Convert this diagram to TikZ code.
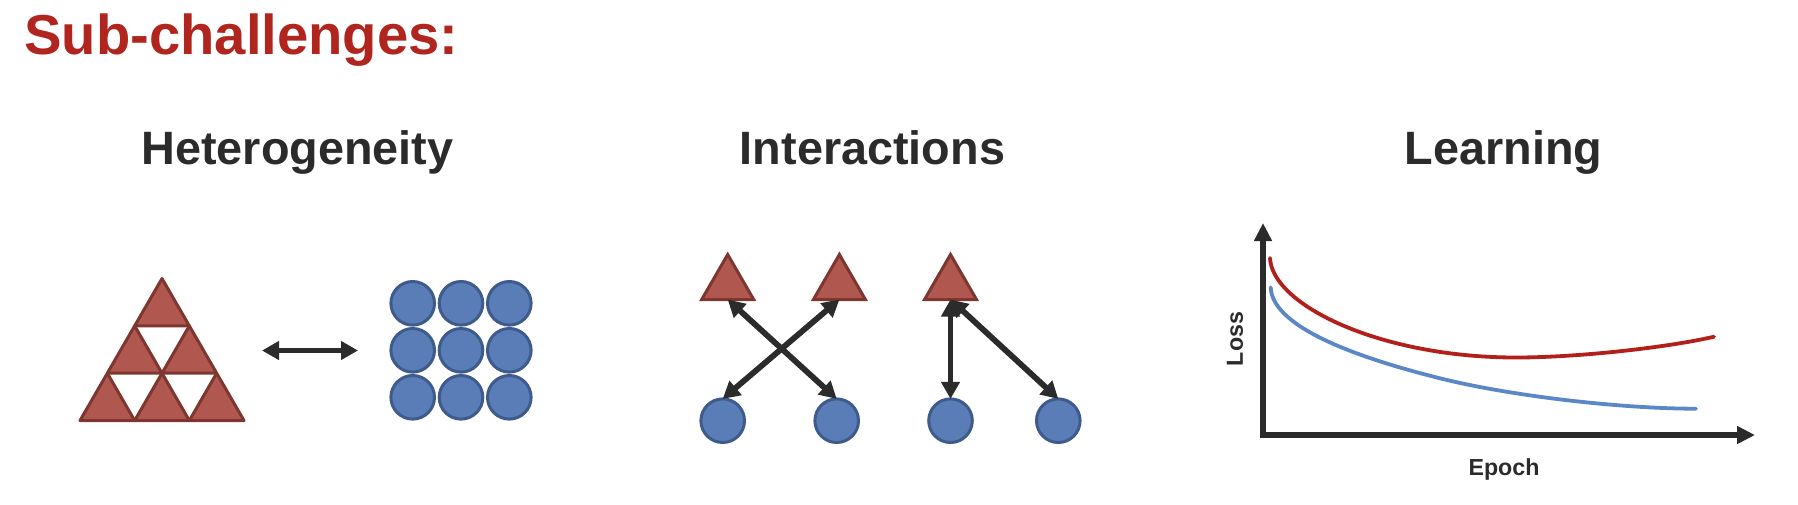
\documentclass[tikz,border=0pt]{standalone}
\usepackage{fontspec}
\setmainfont{Liberation Sans}
\usetikzlibrary{arrows.meta,shapes.geometric}
\definecolor{titlered}{HTML}{B0261E}
\definecolor{ink}{HTML}{2B2B2B}
\definecolor{trifill}{HTML}{B05750}
\definecolor{triedge}{HTML}{7D3730}
\definecolor{dotfill}{HTML}{5A7DB8}
\definecolor{dotedge}{HTML}{3E5B8B}
\definecolor{lossred}{HTML}{B3201B}
\definecolor{lossblue}{HTML}{5B87C6}
\begin{document}
\begin{tikzpicture}[x=0.5pt,y=-0.5pt,
  heading/.style={anchor=base, text=ink, inner sep=0pt,
    font=\bfseries\fontsize{23.4pt}{26pt}\selectfont},
  axlabel/.style={text=ink, inner sep=0pt, font=\bfseries\fontsize{11.6pt}{13pt}\selectfont},
  dot/.style={circle, fill=dotfill, draw=dotedge, line width=1.5pt,
    minimum size=21.8pt, inner sep=0pt, outer sep=0pt},
  tri/.style={regular polygon, regular polygon sides=3, fill=trifill, draw=triedge,
    line width=1.5pt, minimum size=30pt, inner sep=0pt, outer sep=0pt},
  sierp/.style={fill=trifill, draw=triedge, line width=1.5pt, line join=round},
  link/.style={draw=ink, line width=2.9pt,
    {Triangle[length=8.5pt,width=9pt]}-{Triangle[length=8.5pt,width=9pt]}},
  axis/.style={draw=ink, line width=2.6pt, line join=miter,
    {Triangle[length=9pt,width=8.5pt]}-{Triangle[length=9pt,width=8.5pt]}},
  curve/.style={line width=1.9pt, line cap=round}
]
\useasboundingbox (0,0) rectangle (1798,504);

% title
\node[anchor=base west, inner sep=0pt, text=titlered,
  font=\bfseries\fontsize{28.1pt}{32pt}\selectfont] (title) at (24,54) {Sub-challenges:};

% headings
\node[heading] (hhet) at (297.5,164.5) {Heterogeneity};
\node[heading] (hint) at (872.5,164.5) {Interactions};
\node[heading] (hlearn) at (1503.5,164.5) {Learning};

% ---------- Heterogeneity ----------
\foreach \r in {0,1,2}{
  \foreach \i in {0,...,\r}{
    \draw[sierp] ({162 - 27.333*(\r+1) + 54.667*\i}, {278.5 + 47.35*(\r+1)})
      -- ++(54.667,0) -- ++(-27.333,-47.35) -- cycle;
  }
}
\coordinate (hA) at (262,350.5);
\coordinate (hB) at (358,350.5);
\draw[link] (hA) -- (hB);

\foreach \i in {0,1,2}{
  \foreach \j in {0,1,2}{
    \node[dot] (g\i\j) at ({412.7 + 48.3*\i}, {303.3 + 47*\j}) {};
  }
}

% ---------- Interactions ----------
\node[tri] (t1) at (727.7,284.5) {};
\node[tri] (t2) at (839.4,284.5) {};
\node[tri] (t3) at (950.5,284.5) {};
\node[dot] (c1) at (722.7,420.7) {};
\node[dot] (c2) at (836.7,420.7) {};
\node[dot] (c3) at (950.5,420.7) {};
\node[dot] (c4) at (1058.3,420.7) {};
\draw[link] (t1.side 2) -- (c2.north);
\draw[link] (t2.side 2) -- (c1.north);
\draw[link] (t3.side 2) -- (c3.north);
\draw[link] (t3.side 2) -- (c4.north);

% ---------- Learning ----------
\coordinate (o) at (1263,435);
\coordinate (ytip) at (1263,223);
\coordinate (xtip) at (1755,435);
\draw[axis] (ytip) -- (o) -- (xtip);
\draw[curve, draw=lossred] (1270,258) .. controls (1272,305) and (1380,357.5) .. (1516,357.5)
  .. controls (1580,357.5) and (1670,347) .. (1714,336.7);
\draw[curve, draw=lossblue] (1270.7,287.3) .. controls (1272,330) and (1370,360.8) .. (1440,378.3)
  .. controls (1510,395.8) and (1620,408.7) .. (1696,408.7);
\node[axlabel, rotate=90] (lloss) at (1235,339) {Loss};
\node[axlabel, anchor=base] (lepoch) at (1504,475) {Epoch};
\end{tikzpicture}
\end{document}
